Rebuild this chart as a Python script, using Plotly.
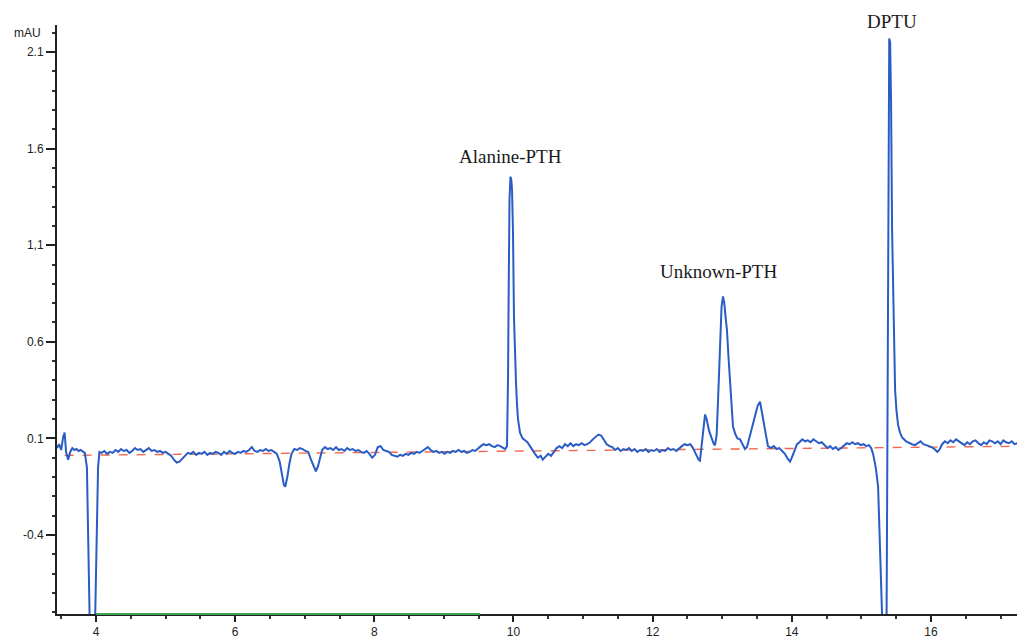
import plotly.graph_objects as go

# ---- data (time in min, absorbance in mAU) ----
time_min = [
    3.44, 3.47, 3.50, 3.53, 3.55, 3.57, 3.60, 3.63, 3.66, 3.69, 3.72, 3.75, 3.78, 3.81, 3.84,
    3.87, 3.89, 3.91, 3.94, 3.97, 3.99, 4.01, 4.03, 4.05, 4.08, 4.12, 4.16, 4.20, 4.24, 4.28,
    4.32, 4.36, 4.40, 4.44, 4.48, 4.52, 4.56, 4.60, 4.64, 4.68, 4.72, 4.76, 4.80, 4.84, 4.88,
    4.92, 4.96, 5.00, 5.04, 5.08, 5.12, 5.16, 5.20, 5.24, 5.28, 5.32, 5.36, 5.40, 5.44, 5.48,
    5.52, 5.56, 5.60, 5.64, 5.68, 5.72, 5.76, 5.80, 5.84, 5.88, 5.92, 5.96, 6.00, 6.04, 6.08,
    6.12, 6.16, 6.20, 6.24, 6.28, 6.32, 6.36, 6.40, 6.44, 6.48, 6.52, 6.56, 6.60, 6.64, 6.67,
    6.70, 6.72, 6.75, 6.78, 6.81, 6.85, 6.89, 6.93, 6.97, 7.01, 7.05, 7.09, 7.13, 7.16, 7.19,
    7.22, 7.25, 7.29, 7.33, 7.37, 7.41, 7.45, 7.49, 7.53, 7.57, 7.61, 7.65, 7.69, 7.73, 7.77,
    7.81, 7.85, 7.89, 7.93, 7.97, 8.01, 8.05, 8.09, 8.13, 8.17, 8.21, 8.25, 8.29, 8.33, 8.37,
    8.41, 8.45, 8.49, 8.53, 8.57, 8.61, 8.65, 8.69, 8.73, 8.77, 8.81, 8.85, 8.89, 8.93, 8.97,
    9.01, 9.05, 9.09, 9.13, 9.17, 9.21, 9.25, 9.29, 9.33, 9.37, 9.41, 9.45, 9.49, 9.53, 9.57,
    9.61, 9.65, 9.69, 9.73, 9.77, 9.81, 9.85, 9.88, 9.907, 9.915, 9.922, 9.93, 9.943, 9.957, 9.968,
    9.979, 9.993, 10.007, 10.02, 10.036, 10.05, 10.065, 10.094, 10.13, 10.166, 10.20, 10.237, 10.27, 10.31, 10.35,
    10.39, 10.42, 10.46, 10.50, 10.54, 10.58, 10.62, 10.66, 10.70, 10.74, 10.78, 10.82, 10.86, 10.90, 10.94,
    10.98, 11.02, 11.06, 11.10, 11.14, 11.18, 11.22, 11.26, 11.30, 11.34, 11.38, 11.42, 11.46, 11.50, 11.54,
    11.58, 11.62, 11.66, 11.70, 11.74, 11.78, 11.82, 11.86, 11.90, 11.94, 11.98, 12.02, 12.06, 12.10, 12.14,
    12.18, 12.22, 12.26, 12.30, 12.34, 12.38, 12.42, 12.46, 12.50, 12.54, 12.58, 12.62, 12.66, 12.68, 12.71,
    12.735, 12.753, 12.775, 12.81, 12.854, 12.88, 12.897, 12.92, 12.94, 12.968, 12.99, 13.011, 13.03, 13.05, 13.068,
    13.09, 13.112, 13.135, 13.155, 13.19, 13.22, 13.255, 13.29, 13.327, 13.356, 13.39, 13.428, 13.47, 13.51, 13.543,
    13.57, 13.613, 13.657, 13.70, 13.74, 13.78, 13.82, 13.86, 13.90, 13.94, 13.974, 14.00, 14.04, 14.075, 14.11,
    14.15, 14.19, 14.23, 14.27, 14.31, 14.35, 14.39, 14.43, 14.47, 14.51, 14.55, 14.59, 14.63, 14.67, 14.71,
    14.75, 14.79, 14.83, 14.87, 14.91, 14.95, 14.99, 15.03, 15.07, 15.11, 15.14, 15.167, 15.19, 15.21, 15.24,
    15.255, 15.27, 15.285, 15.30, 15.33, 15.36, 15.37, 15.385, 15.40, 15.413, 15.426, 15.441, 15.455, 15.47, 15.484,
    15.505, 15.527, 15.555, 15.585, 15.642, 15.69, 15.727, 15.77, 15.81, 15.85, 15.89, 15.93, 15.97, 16.01, 16.05,
    16.09, 16.12, 16.16, 16.20, 16.24, 16.28, 16.32, 16.36, 16.40, 16.44, 16.48, 16.52, 16.56, 16.60, 16.64,
    16.68, 16.72, 16.76, 16.80, 16.84, 16.88, 16.92, 16.96, 17.00, 17.04, 17.08, 17.12, 17.16, 17.20, 17.24,
]
signal_mau = [
    0.05, 0.07, 0.04, 0.11, 0.13, 0.03, -0.01, 0.03, 0.05, 0.04, 0.045, 0.035, 0.04, 0.03, 0.025,
    -0.05, -0.4, -0.85, -0.95, -0.95, -0.8, -0.35, -0.05, 0.03, 0.025, 0.035, 0.02, 0.03, 0.025, 0.04,
    0.03, 0.045, 0.035, 0.04, 0.025, 0.035, 0.05, 0.04, 0.045, 0.03, 0.04, 0.05, 0.035, 0.04, 0.03,
    0.035, 0.025, 0.03, 0.02, 0.01, -0.01, -0.025, -0.02, -0.005, 0.015, 0.025, 0.02, 0.03, 0.015, 0.025,
    0.02, 0.03, 0.015, 0.025, 0.02, 0.03, 0.025, 0.015, 0.03, 0.02, 0.035, 0.025, 0.02, 0.03, 0.025,
    0.035, 0.03, 0.04, 0.055, 0.035, 0.03, 0.04, 0.035, 0.045, 0.035, 0.04, 0.03, 0.02, -0.02, -0.08,
    -0.14, -0.15, -0.10, -0.03, 0.02, 0.045, 0.04, 0.05, 0.045, 0.035, 0.03, -0.01, -0.05, -0.07, -0.045,
    0.0, 0.04, 0.055, 0.045, 0.05, 0.04, 0.055, 0.04, 0.045, 0.035, 0.05, 0.04, 0.045, 0.035, 0.04,
    0.03, 0.025, 0.035, 0.02, 0.0, 0.015, 0.055, 0.06, 0.04, 0.035, 0.03, 0.015, 0.01, 0.005, 0.015,
    0.01, 0.02, 0.015, 0.025, 0.02, 0.03, 0.025, 0.035, 0.045, 0.055, 0.04, 0.03, 0.035, 0.025, 0.03,
    0.02, 0.03, 0.025, 0.035, 0.03, 0.04, 0.03, 0.035, 0.025, 0.03, 0.04, 0.035, 0.05, 0.06, 0.07,
    0.065, 0.07, 0.06, 0.055, 0.065, 0.06, 0.05, 0.045, 0.06, 0.2, 0.42, 0.82, 1.34, 1.455, 1.44,
    1.39, 1.17, 0.73, 0.5, 0.39, 0.28, 0.2, 0.13, 0.1, 0.09, 0.08, 0.06, 0.04, 0.02, 0.0,
    0.01, -0.01, 0.005, 0.02, 0.01, 0.03, 0.05, 0.06, 0.05, 0.07, 0.06, 0.075, 0.06, 0.07, 0.065,
    0.075, 0.065, 0.07, 0.08, 0.095, 0.11, 0.12, 0.115, 0.09, 0.07, 0.06, 0.055, 0.04, 0.05, 0.035,
    0.045, 0.04, 0.05, 0.035, 0.045, 0.03, 0.04, 0.035, 0.045, 0.03, 0.04, 0.035, 0.045, 0.03, 0.04,
    0.035, 0.05, 0.04, 0.045, 0.035, 0.05, 0.06, 0.07, 0.065, 0.07, 0.05, 0.02, -0.01, -0.015, 0.08,
    0.19, 0.224, 0.2, 0.14, 0.095, 0.07, 0.065, 0.12, 0.3, 0.63, 0.78, 0.835, 0.8, 0.72, 0.66,
    0.52, 0.4, 0.26, 0.16, 0.12, 0.1, 0.095, 0.07, 0.045, 0.055, 0.1, 0.16, 0.22, 0.27, 0.29,
    0.24, 0.15, 0.06, 0.05, 0.06, 0.045, 0.05, 0.035, 0.02, -0.005, -0.02, 0.0, 0.04, 0.07, 0.08,
    0.095, 0.085, 0.09, 0.08, 0.095, 0.085, 0.075, 0.08, 0.065, 0.05, 0.06, 0.045, 0.055, 0.04, 0.05,
    0.065, 0.075, 0.07, 0.08, 0.07, 0.075, 0.065, 0.07, 0.06, 0.065, 0.05, 0.02, -0.02, -0.06, -0.15,
    -0.35, -0.55, -0.7, -0.85, -0.95, -0.95, -0.2, 1.5, 2.17, 2.15, 1.85, 1.18, 0.82, 0.55, 0.35,
    0.24, 0.17, 0.13, 0.105, 0.085, 0.075, 0.07, 0.065, 0.075, 0.085, 0.07, 0.065, 0.06, 0.055, 0.045,
    0.03, 0.04, 0.07, 0.085, 0.075, 0.09, 0.08, 0.095, 0.085, 0.075, 0.065, 0.08, 0.07, 0.085, 0.09,
    0.075, 0.065, 0.08, 0.07, 0.09, 0.085, 0.075, 0.085, 0.07, 0.09, 0.08, 0.075, 0.085, 0.07, 0.075,
]

baseline_x = [3.55, 17.24]
baseline_y = [0.012, 0.059]

y_tick_vals = [2.1, 1.6, 1.1, 0.6, 0.1, -0.4]
y_tick_text = ["2.1", "1.6", "1,1", "0.6", "0.1", "-0.4"]
x_tick_vals = [4, 6, 8, 10, 12, 14, 16]
x_tick_text = ["4", "6", "8", "10", "12", "14", "16"]

peak_labels = ["Alanine-PTH", "Unknown-PTH", "DPTU"]
peak_label_x = [9.95, 12.94, 15.44]
peak_label_y = [1.56, 0.965, 2.258]

green_marker_x = [4.0, 9.52]

x_range = [3.44, 17.236]
y_range = [-0.809, 2.24]

fig = go.Figure()

fig.add_trace(go.Scatter(
    x=baseline_x, y=baseline_y, mode="lines",
    line=dict(color="#f2674f", width=1.4, dash="dash"),
    hoverinfo="skip", showlegend=False,
))
fig.add_trace(go.Scatter(
    x=time_min, y=signal_mau, mode="lines",
    line=dict(color="#2a5cc6", width=2),
    showlegend=False,
))

fig.add_shape(type="line", xref="x", yref="paper",
              x0=green_marker_x[0], x1=green_marker_x[1], y0=0, y1=0,
              line=dict(color="#3aa655", width=2), layer="above")

span = y_range[1] - y_range[0]
for txt, ax_, ay_ in zip(peak_labels, peak_label_x, peak_label_y):
    fig.add_annotation(x=ax_, y=(ay_ - y_range[0]) / span, xref="x", yref="paper",
                       text=txt, showarrow=False, yanchor="middle",
                       font=dict(family="Liberation Serif, Times New Roman, serif", size=19, color="#1a1a1a"))

fig.add_annotation(x=-0.015, y=0.986, xref="paper", yref="paper", text="mAU",
                   showarrow=False, xanchor="right", yanchor="middle",
                   font=dict(family="Liberation Sans, Arial, sans-serif", size=12, color="#222"))

fig.update_layout(
    width=1017, height=638,
    margin=dict(l=57, r=0, t=25, b=24),
    plot_bgcolor="white", paper_bgcolor="white",
    showlegend=False,
    xaxis=dict(
        range=x_range, showgrid=False, zeroline=False,
        showline=True, linecolor="#222", linewidth=2,
        ticks="outside", ticklen=6, tickwidth=1.5, tickcolor="#222",
        tickvals=x_tick_vals, ticktext=x_tick_text,
        tickfont=dict(family="Liberation Sans, Arial, sans-serif", size=12, color="#222"),
        minor=dict(tickvals=[v + 0.5 * k for v in [3.5] + x_tick_vals for k in range(4)],
                   ticks="outside", ticklen=3, tickcolor="#333", tickwidth=1.5),
    ),
    yaxis=dict(
        range=y_range, showgrid=False, zeroline=False,
        showline=True, linecolor="#222", linewidth=2,
        ticks="outside", ticklen=9, tickwidth=1.5, tickcolor="#222",
        tickvals=y_tick_vals, ticktext=y_tick_text,
        tickfont=dict(family="Liberation Sans, Arial, sans-serif", size=12, color="#222"),
        minor=dict(dtick=0.1, tick0=0.1, ticks="outside", ticklen=3, tickcolor="#333", tickwidth=1.5),
    ),
)

fig.write_html("out.html")
